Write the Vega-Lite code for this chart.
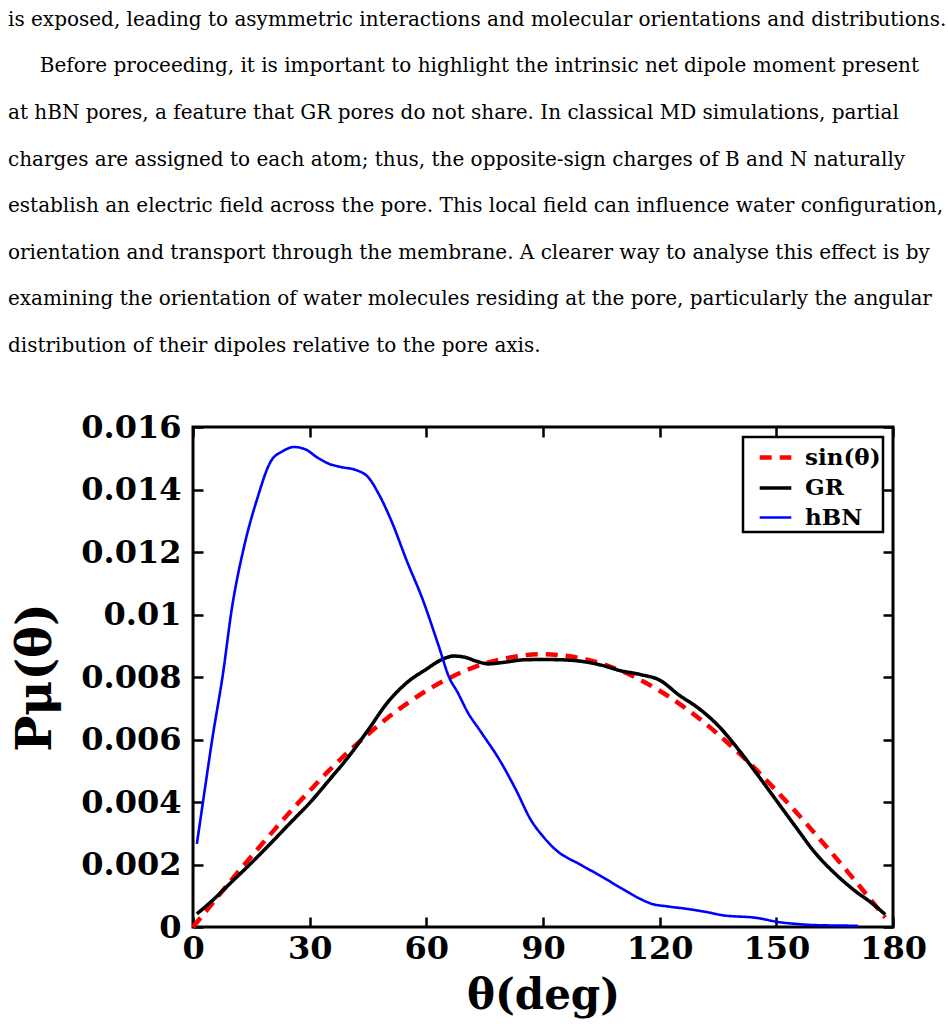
{
  "$schema": "https://vega.github.io/schema/vega-lite/v6.json",
  "width": 700,
  "height": 500,
  "autosize": {"type": "none"},
  "padding": {"left": 193, "top": 427, "right": 55, "bottom": 104},
  "background": "white",
  "title": {
    "text": [
      "is exposed, leading to asymmetric interactions and molecular orientations and distributions.",
      "\u200b\u00a0\u00a0\u00a0\u00a0\u00a0Before proceeding, it is important to highlight the intrinsic net dipole moment present",
      "at hBN pores, a feature that GR pores do not share.  In classical MD simulations, partial",
      "charges are assigned to each atom; thus, the opposite-sign charges of B and N naturally",
      "establish an electric field across the pore. This local field can influence water configuration,",
      "orientation and transport through the membrane. A clearer way to analyse this effect is by",
      "examining the orientation of water molecules residing at the pore, particularly the angular",
      "distribution of their dipoles relative to the pore axis."
    ],
    "anchor": "start",
    "frame": "group",
    "orient": "top",
    "baseline": "alphabetic",
    "font": "DejaVu Serif",
    "fontSize": 20,
    "fontWeight": "normal",
    "color": "black",
    "lineHeight": 46.6,
    "offset": 39,
    "dx": -185
  },
  "config": {
    "view": {"stroke": "black", "strokeWidth": 3},
    "axis": {
      "domain": false,
      "grid": false,
      "tickColor": "black",
      "tickWidth": 2.5,
      "tickSize": -10,
      "labelFont": "DejaVu Serif",
      "labelFontWeight": "bold",
      "labelFontSize": 32,
      "labelColor": "black",
      "titleFont": "DejaVu Serif",
      "titleFontWeight": "bold",
      "titleFontSize": 42,
      "titleColor": "black"
    },
    "legend": {
      "orient": "top-right",
      "offset": 10,
      "strokeColor": "black",
      "strokeWidth": 2.5,
      "padding": 2,
      "fillColor": "white",
      "labelFont": "DejaVu Serif",
      "labelFontWeight": "bold",
      "labelFontSize": 23,
      "labelColor": "black",
      "labelOffset": 11,
      "symbolOffset": 12,
      "symbolType": "stroke",
      "symbolSize": 1000,
      "rowPadding": 0,
      "labelExpr": "datum.label + '\u00a0\u00a0\u00a0'"
    }
  },
  "data": {
    "values": [
      {"series": "sin(θ)", "theta": 0, "p": 0},
      {"series": "sin(θ)", "theta": 5, "p": 0.00076},
      {"series": "sin(θ)", "theta": 10, "p": 0.00152},
      {"series": "sin(θ)", "theta": 15, "p": 0.00226},
      {"series": "sin(θ)", "theta": 20, "p": 0.00298},
      {"series": "sin(θ)", "theta": 25, "p": 0.00369},
      {"series": "sin(θ)", "theta": 30, "p": 0.00436},
      {"series": "sin(θ)", "theta": 35, "p": 0.00501},
      {"series": "sin(θ)", "theta": 40, "p": 0.00561},
      {"series": "sin(θ)", "theta": 45, "p": 0.00617},
      {"series": "sin(θ)", "theta": 50, "p": 0.00669},
      {"series": "sin(θ)", "theta": 55, "p": 0.00715},
      {"series": "sin(θ)", "theta": 60, "p": 0.00756},
      {"series": "sin(θ)", "theta": 65, "p": 0.00791},
      {"series": "sin(θ)", "theta": 70, "p": 0.0082},
      {"series": "sin(θ)", "theta": 75, "p": 0.00843},
      {"series": "sin(θ)", "theta": 80, "p": 0.00859},
      {"series": "sin(θ)", "theta": 85, "p": 0.00869},
      {"series": "sin(θ)", "theta": 90, "p": 0.00873},
      {"series": "sin(θ)", "theta": 95, "p": 0.00869},
      {"series": "sin(θ)", "theta": 100, "p": 0.00859},
      {"series": "sin(θ)", "theta": 105, "p": 0.00843},
      {"series": "sin(θ)", "theta": 110, "p": 0.0082},
      {"series": "sin(θ)", "theta": 115, "p": 0.00791},
      {"series": "sin(θ)", "theta": 120, "p": 0.00756},
      {"series": "sin(θ)", "theta": 125, "p": 0.00715},
      {"series": "sin(θ)", "theta": 130, "p": 0.00669},
      {"series": "sin(θ)", "theta": 135, "p": 0.00617},
      {"series": "sin(θ)", "theta": 140, "p": 0.00561},
      {"series": "sin(θ)", "theta": 145, "p": 0.00501},
      {"series": "sin(θ)", "theta": 150, "p": 0.00436},
      {"series": "sin(θ)", "theta": 155, "p": 0.00369},
      {"series": "sin(θ)", "theta": 160, "p": 0.00298},
      {"series": "sin(θ)", "theta": 165, "p": 0.00226},
      {"series": "sin(θ)", "theta": 170, "p": 0.00152},
      {"series": "sin(θ)", "theta": 175, "p": 0.00076},
      {"series": "sin(θ)", "theta": 178, "p": 0.0003},
      {"series": "GR", "theta": 1, "p": 0.00042},
      {"series": "GR", "theta": 5, "p": 0.00085},
      {"series": "GR", "theta": 10, "p": 0.00145},
      {"series": "GR", "theta": 15, "p": 0.00205},
      {"series": "GR", "theta": 20, "p": 0.00268},
      {"series": "GR", "theta": 25, "p": 0.00333},
      {"series": "GR", "theta": 30, "p": 0.00397},
      {"series": "GR", "theta": 35, "p": 0.0047},
      {"series": "GR", "theta": 40, "p": 0.00545},
      {"series": "GR", "theta": 45, "p": 0.0063},
      {"series": "GR", "theta": 50, "p": 0.00718},
      {"series": "GR", "theta": 55, "p": 0.00782},
      {"series": "GR", "theta": 60, "p": 0.00825},
      {"series": "GR", "theta": 64, "p": 0.00856},
      {"series": "GR", "theta": 67, "p": 0.00867},
      {"series": "GR", "theta": 70, "p": 0.00863},
      {"series": "GR", "theta": 73, "p": 0.0085},
      {"series": "GR", "theta": 76, "p": 0.00842},
      {"series": "GR", "theta": 80, "p": 0.00847},
      {"series": "GR", "theta": 85, "p": 0.00855},
      {"series": "GR", "theta": 90, "p": 0.00856},
      {"series": "GR", "theta": 95, "p": 0.00855},
      {"series": "GR", "theta": 100, "p": 0.0085},
      {"series": "GR", "theta": 105, "p": 0.00838},
      {"series": "GR", "theta": 110, "p": 0.0082},
      {"series": "GR", "theta": 115, "p": 0.00808},
      {"series": "GR", "theta": 120, "p": 0.0079},
      {"series": "GR", "theta": 125, "p": 0.00742},
      {"series": "GR", "theta": 130, "p": 0.007},
      {"series": "GR", "theta": 135, "p": 0.00645},
      {"series": "GR", "theta": 140, "p": 0.00572},
      {"series": "GR", "theta": 145, "p": 0.0049},
      {"series": "GR", "theta": 150, "p": 0.00405},
      {"series": "GR", "theta": 155, "p": 0.0032},
      {"series": "GR", "theta": 160, "p": 0.00237},
      {"series": "GR", "theta": 165, "p": 0.00172},
      {"series": "GR", "theta": 170, "p": 0.00118},
      {"series": "GR", "theta": 175, "p": 0.00072},
      {"series": "GR", "theta": 178, "p": 0.0004},
      {"series": "hBN", "theta": 1, "p": 0.00266},
      {"series": "hBN", "theta": 2.6, "p": 0.00403},
      {"series": "hBN", "theta": 5, "p": 0.00605},
      {"series": "hBN", "theta": 7.7, "p": 0.0081},
      {"series": "hBN", "theta": 10, "p": 0.0102},
      {"series": "hBN", "theta": 13, "p": 0.0121},
      {"series": "hBN", "theta": 16.5, "p": 0.0137},
      {"series": "hBN", "theta": 20, "p": 0.0149},
      {"series": "hBN", "theta": 23, "p": 0.01522},
      {"series": "hBN", "theta": 26, "p": 0.01536},
      {"series": "hBN", "theta": 29, "p": 0.01528},
      {"series": "hBN", "theta": 32, "p": 0.01502},
      {"series": "hBN", "theta": 35, "p": 0.01482},
      {"series": "hBN", "theta": 38, "p": 0.01472},
      {"series": "hBN", "theta": 42, "p": 0.01462},
      {"series": "hBN", "theta": 45, "p": 0.0144},
      {"series": "hBN", "theta": 48, "p": 0.0138},
      {"series": "hBN", "theta": 51, "p": 0.013},
      {"series": "hBN", "theta": 55, "p": 0.01171},
      {"series": "hBN", "theta": 59, "p": 0.0105},
      {"series": "hBN", "theta": 63, "p": 0.00906},
      {"series": "hBN", "theta": 66, "p": 0.00795},
      {"series": "hBN", "theta": 68, "p": 0.00752},
      {"series": "hBN", "theta": 70.5, "p": 0.0069},
      {"series": "hBN", "theta": 74, "p": 0.00625},
      {"series": "hBN", "theta": 79, "p": 0.00531},
      {"series": "hBN", "theta": 83, "p": 0.0044},
      {"series": "hBN", "theta": 87, "p": 0.0034},
      {"series": "hBN", "theta": 90, "p": 0.0029},
      {"series": "hBN", "theta": 93, "p": 0.0025},
      {"series": "hBN", "theta": 100, "p": 0.00197},
      {"series": "hBN", "theta": 105, "p": 0.00162},
      {"series": "hBN", "theta": 110, "p": 0.00125},
      {"series": "hBN", "theta": 115, "p": 0.0009},
      {"series": "hBN", "theta": 118, "p": 0.00074},
      {"series": "hBN", "theta": 122, "p": 0.00066},
      {"series": "hBN", "theta": 127, "p": 0.00058},
      {"series": "hBN", "theta": 132, "p": 0.00048},
      {"series": "hBN", "theta": 136, "p": 0.00038},
      {"series": "hBN", "theta": 145, "p": 0.00029},
      {"series": "hBN", "theta": 151, "p": 0.00015},
      {"series": "hBN", "theta": 155, "p": 0.0001},
      {"series": "hBN", "theta": 160, "p": 0.00006},
      {"series": "hBN", "theta": 171, "p": 0.00004}
    ]
  },
  "layer": [
    {
      "mark": {"type": "line", "interpolate": "monotone"},
      "encoding": {
        "x": {
          "field": "theta", "type": "quantitative",
          "scale": {"domain": [0, 180], "nice": false, "zero": false},
          "axis": {"orient": "bottom", "values": [0, 30, 60, 90, 120, 150, 180], "title": "θ(deg)", "labelPadding": 16, "titlePadding": 11, "labelFlush": false}
        },
        "y": {
          "field": "p", "type": "quantitative",
          "scale": {"domain": [0, 0.016], "nice": false},
          "axis": {"orient": "left", "values": [0, 0.002, 0.004, 0.006, 0.008, 0.01, 0.012, 0.014, 0.016], "format": ".3~f", "title": "Pμ(θ)", "titleFontSize": 48, "labelPadding": 22, "titlePadding": 20, "labelFlush": false}
        },
        "color": {
          "field": "series", "type": "nominal",
          "scale": {"domain": ["sin(θ)", "GR", "hBN"], "range": ["#ff0000", "#000000", "#0000ff"]},
          "legend": {"title": null}
        },
        "strokeDash": {
          "field": "series", "type": "nominal",
          "scale": {"domain": ["sin(θ)", "GR", "hBN"], "range": [[12, 8], [1, 0], [1, 0]]},
          "legend": {"title": null}
        },
        "strokeWidth": {
          "field": "series", "type": "nominal",
          "scale": {"domain": ["sin(θ)", "GR", "hBN"], "range": [4.5, 2.6, 2.8]},
          "legend": {"title": null}
        }
      }
    },
    {
      "mark": {"type": "line", "opacity": 0},
      "encoding": {
        "x": {
          "field": "theta", "type": "quantitative",
          "axis": {"orient": "top", "values": [0, 30, 60, 90, 120, 150, 180], "labels": false, "title": null}
        },
        "y": {
          "field": "p", "type": "quantitative",
          "axis": {"orient": "right", "values": [0, 0.002, 0.004, 0.006, 0.008, 0.01, 0.012, 0.014, 0.016], "labels": false, "title": null}
        },
        "detail": {"field": "series", "type": "nominal"}
      }
    }
  ],
  "resolve": {"axis": {"x": "independent", "y": "independent"}}
}
